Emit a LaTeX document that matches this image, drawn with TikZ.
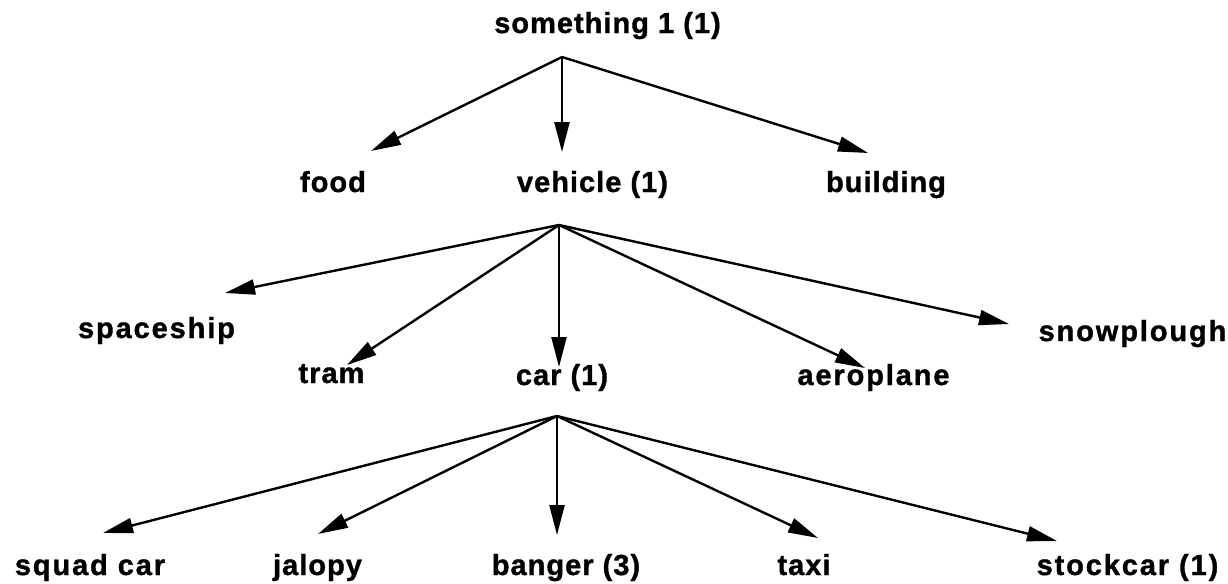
\documentclass[tikz,border=0pt]{standalone}
\usepackage{fontspec}
\setmainfont{Liberation Sans}[LetterSpace=3.5,FakeBold=1.2]
\newfontfamily\widefont{Liberation Sans}[LetterSpace=6.5,FakeBold=1.2]
\usetikzlibrary{arrows.meta}

\begin{document}
\begin{tikzpicture}[x=0.5pt,y=-0.5pt,
  word/.style={anchor=base,inner sep=0pt,font=\fontsize{14.5pt}{16pt}\selectfont\bfseries},
  wideword/.style={word,font=\widefont\fontsize{14.5pt}{16pt}\selectfont\bfseries},
  branch/.style={-{Triangle[length=15pt,width=7.5pt]},black,line width=1.2pt}]

\useasboundingbox (0,0) rectangle (1228,584);

%points where the arrows fan out
\coordinate (top) at (562,57);
\coordinate (vfork) at (559,225);
\coordinate (cfork) at (557,416);

%first level
\node[word] (something) at (607.5,33) {something 1 (1)};

%second level
\node[word] (food) at (333,192) {food};
\node[word] (vehicle) at (592.5,192) {vehicle (1)};
\node[word] (building) at (886,192) {building};

%third level
\node[wideword] (spaceship) at (156.5,338) {spaceship};
\node[word] (tram) at (331.5,383) {tram};
\node[word] (car) at (562,385) {car (1)};
\node[wideword] (aeroplane) at (873.5,385) {aeroplane};
\node[wideword] (snowplough) at (1132.5,341) {snowplough};

%fourth level
\node[wideword] (squadcar) at (90,575) {squad car};
\node[word] (jalopy) at (317.5,575) {jalopy};
\node[word] (banger) at (566,575) {banger (3)};
\node[word] (taxi) at (804,575) {taxi};
\node[wideword] (stockcar) at (1127.5,575) {stockcar (1)};

%ends of the arrows
\coordinate (food-end) at (371,151);
\coordinate (vehicle-end) at (562,152);
\coordinate (building-end) at (868,153);
\coordinate (spaceship-end) at (225,293);
\coordinate (tram-end) at (347,365);
\coordinate (car-end) at (559,367);
\coordinate (aeroplane-end) at (865,368);
\coordinate (snowplough-end) at (1009,324);
\coordinate (squadcar-end) at (103,533);
\coordinate (jalopy-end) at (318,534);
\coordinate (banger-end) at (557,535);
\coordinate (taxi-end) at (818,538);
\coordinate (stockcar-end) at (1057,541);

%drawing the arrows
\foreach \n in {food,vehicle,building}
\draw[branch] (top) -- (\n-end);
\foreach \n in {spaceship,tram,car,aeroplane,snowplough}
\draw[branch] (vfork) -- (\n-end);
\foreach \n in {squadcar,jalopy,banger,taxi,stockcar}
\draw[branch] (cfork) -- (\n-end);
\end{tikzpicture}
\end{document}
